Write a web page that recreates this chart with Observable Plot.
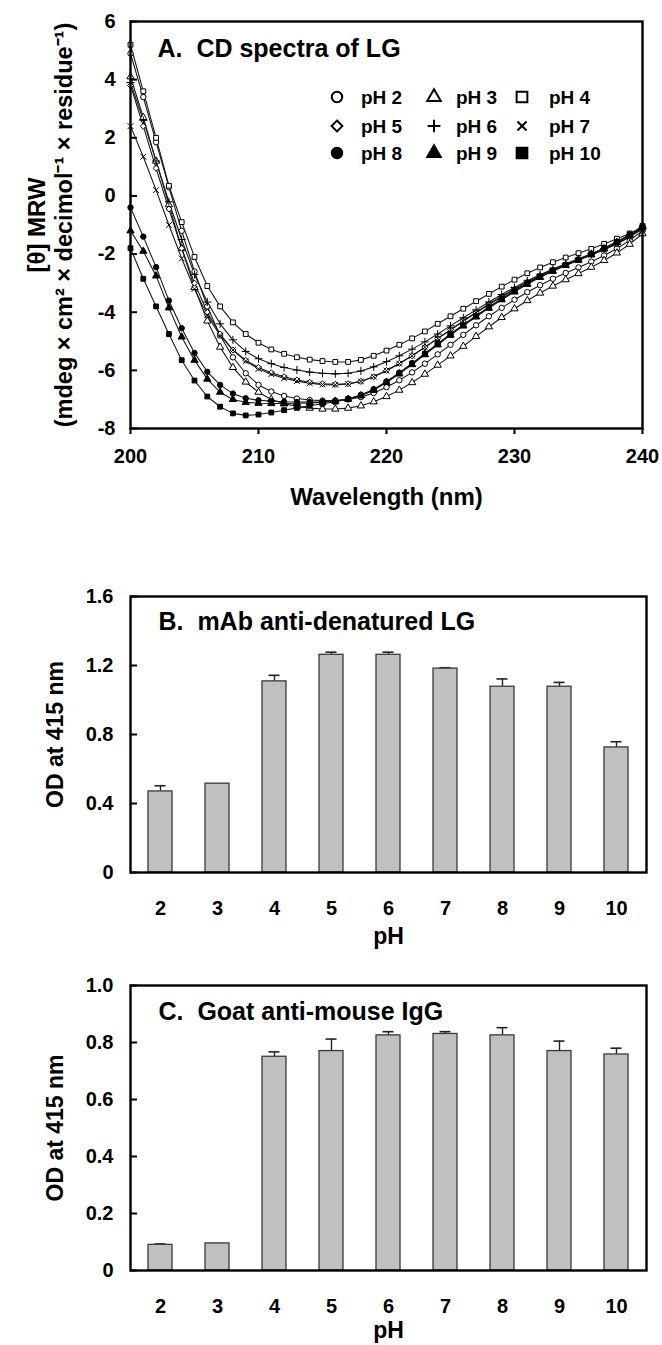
<!DOCTYPE html>
<html>
<head>
<meta charset="utf-8">
<script src="https://cdn.jsdelivr.net/npm/d3@7"></script>
<script src="https://cdn.jsdelivr.net/npm/@observablehq/plot@0.6"></script>
<style>
  html, body { margin: 0; padding: 0; background: #fff; }
  #root { position: relative; width: 662px; height: 1345px; background: #fff; overflow: hidden;
          font-family: "Liberation Sans", Arial, Helvetica, sans-serif; font-weight: bold; color: #000; }
  .panel { position: absolute; left: 0; }
</style>
</head>
<body>
<div id="root"></div>
<script>
// ---------------- Panel A data: CD spectra ----------------
const wavelength = [200,201,202,203,204,205,206,207,208,209,210,211,212,213,214,215,216,217,218,219,220,
                    221,222,223,224,225,226,227,228,229,230,231,232,233,234,235,236,237,238,239,240];
const pH2 = [4.9,3.4,1.85,0.3,-1.2,-2.6,-3.8,-4.8,-5.55,-6.1,-6.5,-6.73,-6.88,-6.97,-7.02,-7.04,-7.04,-7.0,-6.92,-6.78,-6.58,
             -6.34,-6.07,-5.77,-5.45,-5.12,-4.78,-4.45,-4.14,-3.85,-3.57,-3.31,-3.07,-2.85,-2.65,-2.46,-2.26,-2.05,-1.81,-1.53,-1.2];
const pH3 = [4.1,2.7,1.2,-0.3,-1.8,-3.15,-4.3,-5.2,-5.9,-6.4,-6.75,-7.0,-7.15,-7.24,-7.3,-7.33,-7.33,-7.3,-7.22,-7.08,-6.9,
             -6.68,-6.42,-6.13,-5.82,-5.5,-5.17,-4.83,-4.5,-4.18,-3.88,-3.6,-3.34,-3.1,-2.88,-2.67,-2.45,-2.22,-1.96,-1.66,-1.3];
const pH4 = [5.2,3.6,2.0,0.35,-0.9,-2.1,-3.1,-3.8,-4.35,-4.75,-5.05,-5.28,-5.43,-5.55,-5.63,-5.68,-5.71,-5.71,-5.64,-5.5,-5.32,
             -5.12,-4.9,-4.66,-4.4,-4.14,-3.88,-3.62,-3.37,-3.12,-2.88,-2.66,-2.46,-2.28,-2.12,-1.97,-1.82,-1.65,-1.47,-1.29,-1.08];
const pH5 = [3.8,2.4,0.95,-0.45,-1.8,-3.0,-4.0,-4.75,-5.3,-5.65,-5.9,-6.08,-6.22,-6.33,-6.41,-6.46,-6.48,-6.46,-6.38,-6.22,-6.0,
             -5.76,-5.5,-5.2,-4.9,-4.6,-4.3,-4.0,-3.72,-3.45,-3.2,-2.96,-2.74,-2.54,-2.36,-2.19,-2.02,-1.84,-1.64,-1.4,-1.12];
const pH6 = [3.9,2.6,1.2,-0.2,-1.5,-2.7,-3.65,-4.4,-4.95,-5.35,-5.6,-5.77,-5.9,-5.99,-6.06,-6.1,-6.12,-6.1,-6.02,-5.88,-5.7,
             -5.5,-5.27,-5.02,-4.75,-4.47,-4.19,-3.92,-3.65,-3.39,-3.15,-2.92,-2.71,-2.51,-2.33,-2.16,-1.99,-1.81,-1.61,-1.38,-1.1];
const pH7 = [2.4,1.35,0.2,-1.0,-2.15,-3.2,-4.1,-4.8,-5.3,-5.68,-5.95,-6.13,-6.27,-6.37,-6.44,-6.49,-6.5,-6.47,-6.38,-6.22,-6.01,
             -5.77,-5.5,-5.21,-4.91,-4.61,-4.31,-4.02,-3.74,-3.47,-3.22,-2.98,-2.76,-2.56,-2.38,-2.2,-2.03,-1.85,-1.65,-1.41,-1.13];
const pH8 = [-0.4,-1.4,-2.45,-3.6,-4.55,-5.4,-6.05,-6.5,-6.8,-6.96,-7.03,-7.06,-7.08,-7.09,-7.09,-7.08,-7.05,-6.98,-6.85,-6.65,-6.38,
             -6.08,-5.75,-5.42,-5.08,-4.75,-4.43,-4.12,-3.82,-3.53,-3.26,-3.0,-2.77,-2.56,-2.37,-2.19,-2.0,-1.8,-1.58,-1.33,-1.05];
const pH9 = [-1.2,-1.9,-2.75,-3.85,-4.85,-5.65,-6.3,-6.75,-7.0,-7.1,-7.13,-7.14,-7.14,-7.13,-7.12,-7.1,-7.06,-6.99,-6.87,-6.68,-6.42,
             -6.12,-5.8,-5.46,-5.12,-4.79,-4.47,-4.16,-3.86,-3.57,-3.3,-3.04,-2.8,-2.59,-2.39,-2.21,-2.02,-1.82,-1.6,-1.35,-1.07];
const pH10 = [-1.8,-2.85,-3.8,-4.75,-5.65,-6.35,-6.9,-7.25,-7.48,-7.55,-7.52,-7.45,-7.37,-7.29,-7.22,-7.15,-7.08,-6.99,-6.86,-6.67,-6.4,
              -6.1,-5.78,-5.44,-5.1,-4.77,-4.45,-4.14,-3.84,-3.55,-3.28,-3.02,-2.78,-2.57,-2.37,-2.19,-2.0,-1.8,-1.58,-1.33,-1.03];
const seriesNames = ["pH 2","pH 3","pH 4","pH 5","pH 6","pH 7","pH 8","pH 9","pH 10"];
const seriesValues = [pH2,pH3,pH4,pH5,pH6,pH7,pH8,pH9,pH10];
const seriesSymbols = ["circle","triangle","square","diamond2","plus","times","circle","triangle","square"];
const seriesFilled = [false,false,false,false,false,false,true,true,true];
const xTicksA = [200,210,220,230,240];
const yTicksA = [-8,-6,-4,-2,0,2,4,6];

// ---------------- Panel B / C data: ELISA ----------------
const pHCategories = ["2","3","4","5","6","7","8","9","10"];
const odB  = [0.47,0.515,1.108,1.262,1.262,1.182,1.077,1.077,0.725];
const errB = [0.033,0,0.035,0.015,0.015,0.005,0.045,0.025,0.033];
const odC  = [0.09,0.095,0.75,0.77,0.825,0.83,0.825,0.77,0.758];
const errC = [0.003,0,0.017,0.042,0.013,0.008,0.027,0.035,0.022];
const yTicksB = [0,0.4,0.8,1.2,1.6];
const yTicksC = [0,0.2,0.4,0.6,0.8,1.0];

// ---------------- build ----------------
const FONT = '"Liberation Sans", Arial, Helvetica, sans-serif';
const root = document.getElementById("root");
function place(el, top) {
  const wrap = document.createElement("div");
  wrap.className = "panel";
  wrap.style.top = top + "px";
  wrap.appendChild(el);
  root.appendChild(wrap);
  return wrap;
}
const fmtNum = d => d === 0 ? "0" : d.toFixed(1);

const rowsA = seriesNames.flatMap((name, i) =>
  wavelength.map((w, j) => ({series: name, wavelength: w, value: seriesValues[i][j], filled: seriesFilled[i]})));

const plotA = Plot.plot({
  width: 662, height: 525,
  marginTop: 21, marginBottom: 97, marginLeft: 130, marginRight: 20,
  style: {fontFamily: FONT, fontWeight: "bold", fontSize: "20px", color: "#000", background: "transparent", overflow: "visible"},
  x: {domain: [200, 240], label: null},
  y: {domain: [-8, 6], label: null},
  symbol: {domain: seriesNames, range: seriesSymbols},
  marks: [
    Plot.line(rowsA, {x: "wavelength", y: "value", z: "series", stroke: "#1a1a1a", strokeWidth: 1.1}),
    Plot.dot(rowsA, {filter: d => !d.filled, x: "wavelength", y: "value", symbol: "series", r: 2.7, fill: "#fff", stroke: "#000", strokeWidth: 1}),
    Plot.dot(rowsA, {filter: d => d.filled, x: "wavelength", y: "value", symbol: "series", r: 2.7, fill: "#000", stroke: "#000", strokeWidth: 1}),
    Plot.frame({stroke: "#000", strokeWidth: 2.4}),
    Plot.axisX({ticks: xTicksA, tickSize: 6, tickPadding: 14, tickFormat: d => String(d), label: null, strokeWidth: 2}),
    Plot.axisY({ticks: yTicksA, tickSize: -7, tickPadding: 22, tickFormat: d => String(d), label: null, strokeWidth: 2}),
    Plot.text(["A.  CD spectra of LG"], {frameAnchor: "top-left", dx: 27, dy: 27, textAnchor: "start", lineAnchor: "middle", fontSize: 25}),
    Plot.text(["Wavelength (nm)"], {frameAnchor: "bottom", dy: 69, lineAnchor: "middle", fontSize: 24}),
    Plot.text(["[θ] MRW"], {frameAnchor: "left", rotate: -90, dx: -93, textAnchor: "middle", lineAnchor: "middle", fontSize: 24}),
    Plot.text(["(mdeg × cm² × decimol⁻¹ × residue⁻¹)"], {frameAnchor: "left", rotate: -90, dx: -66, textAnchor: "middle", lineAnchor: "middle", fontSize: 23.5})
  ]
});
place(plotA, 0);

// legend for panel A (3 x 3 grid, top right of the frame)
const d3Sym = {circle: d3.symbolCircle, triangle: d3.symbolTriangle, square: d3.symbolSquare,
               diamond2: d3.symbolDiamond2, plus: d3.symbolPlus, times: d3.symbolTimes};
const legendColSym = [337, 434, 522], legendColText = [361, 456, 549], legendRowY = [97, 126, 153];
const legendSize = {circle: 85, triangle: 80, square: 115, diamond2: 75, plus: 55, times: 55};
const legend = d3.create("svg").attr("width", 662).attr("height", 180)
  .style("position", "absolute").style("left", "0px").style("top", "0px")
  .style("font-family", FONT).style("font-weight", "bold");
seriesNames.forEach((name, i) => {
  const c = i % 3, r = Math.floor(i / 3);
  const s = seriesSymbols[i];
  legend.append("path")
    .attr("d", d3.symbol(d3Sym[s], legendSize[s])())
    .attr("transform", `translate(${legendColSym[c]},${legendRowY[r]})`)
    .attr("fill", seriesFilled[i] ? "#000" : (s === "plus" || s === "times" ? "none" : "#fff"))
    .attr("stroke", "#000").attr("stroke-width", 2);
  legend.append("text").attr("x", legendColText[c]).attr("y", legendRowY[r]).attr("dy", "0.35em")
    .attr("font-size", 19).attr("fill", "#000").text(name);
});
root.appendChild(legend.node());

function barPanel(od, err, yDomain, yTicks, title, titleDy, pHDy, height, marginTop, marginBottom) {
  const rows = pHCategories.map((p, i) => ({pH: p, od: od[i], top: od[i] + err[i], err: err[i]}));
  return Plot.plot({
    width: 662, height,
    marginTop, marginBottom, marginLeft: 130, marginRight: 16,
    style: {fontFamily: FONT, fontWeight: "bold", fontSize: "20px", color: "#000", background: "transparent", overflow: "visible"},
    x: {domain: pHCategories, paddingInner: 0.58, paddingOuter: 0.29, label: null},
    y: {domain: yDomain, label: null},
    marks: [
      Plot.ruleX(rows.filter(d => d.err > 0), {x: "pH", y1: "od", y2: "top", stroke: "#222", strokeWidth: 1.4}),
      Plot.tickY(rows.filter(d => d.err > 0), {x: "pH", y: "top", stroke: "#222", strokeWidth: 1.6, insetLeft: 6.5, insetRight: 6.5}),
      Plot.barY(rows, {x: "pH", y: "od", fill: "#c0c0c0", stroke: "#3a3a3a", strokeWidth: 1.3}),
      Plot.frame({stroke: "#000", strokeWidth: 2.4}),
      Plot.axisX({tickSize: 0, tickPadding: 28, label: null}),
      Plot.axisY({ticks: yTicks, tickSize: -7, tickPadding: 24, tickFormat: fmtNum, label: null, strokeWidth: 2}),
      Plot.text([title], {frameAnchor: "top-left", dx: 28, dy: titleDy, textAnchor: "start", lineAnchor: "middle", fontSize: 25}),
      Plot.text(["pH"], {frameAnchor: "bottom", dy: pHDy, lineAnchor: "middle", fontSize: 23}),
      Plot.text(["OD at 415 nm"], {frameAnchor: "left", rotate: -90, dx: -75, textAnchor: "middle", lineAnchor: "middle", fontSize: 23})
    ]
  });
}

place(barPanel(odB, errB, [0, 1.6], yTicksB, "B.  mAb anti-denatured LG", 25, 64, 380, 26, 78), 570);
place(barPanel(odC, errC, [0, 1.0], yTicksC, "C.  Goat anti-mouse IgG", 26, 60, 390, 30, 75), 955);
</script>
</body>
</html>
